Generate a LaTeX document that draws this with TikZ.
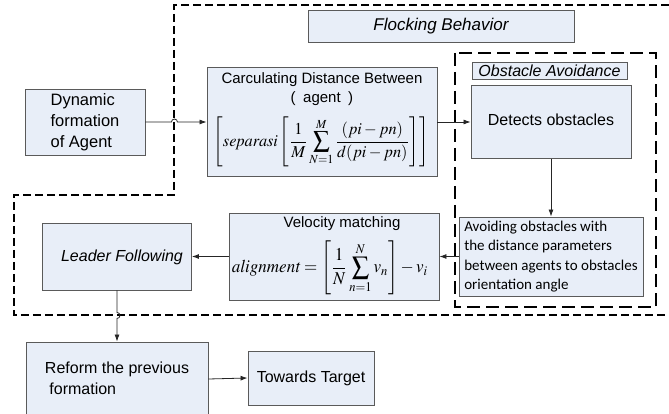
\documentclass[tikz,border=0pt]{standalone}
\usepackage{mathptmx}
\usepackage{fontspec}
\setmainfont{Liberation Sans}
\newfontfamily\calfont{Carlito}
\usetikzlibrary{arrows.meta}
\definecolor{boxfill}{HTML}{E8EEF8}
\definecolor{boxline}{HTML}{5A5A5A}
\begin{document}
\begin{tikzpicture}[x=1pt,y=-1pt,
  blk/.style={draw=boxline,fill=boxfill,line width=0.9pt,inner sep=0pt},
  txt/.style={inner sep=0pt,font=\fontsize{16}{21}\selectfont},
  conn/.style={draw=black!85,line width=0.8pt,-{Latex[length=7pt,width=5pt]}},
  outerdash/.style={line width=1.5pt,dash pattern=on 8pt off 4pt},
  obsdash/.style={line width=1.6pt,dash pattern=on 13pt off 6pt}]
\clip (0,0) rectangle (669,414);
% outer dashed region
\draw[outerdash] (669,5) -- (174,5) -- (174,195) -- (14,195) -- (14,315) -- (669,315);
% obstacle avoidance dashed region
\draw[obsdash] (455,53) rectangle (656,307);
% boxes
\node[blk,minimum width=120pt,minimum height=66pt] (dyn) at (85,122) {};
\node[txt,font=\fontsize{16.5}{21}\selectfont,align=left] (dynt) at (85,122) {Dynamic\\formation\\of Agent};
\node[blk,minimum width=266pt,minimum height=32pt] (flock) at (441,26)
  {\fontsize{17}{20}\selectfont\itshape Flocking Behavior};
\node[blk,minimum width=230pt,minimum height=109pt] (carc) at (322,122) {};
\node[txt,font=\fontsize{15}{19}\selectfont,align=center] (carct) at (322,89)
  {Carculating Distance Between\\(\enspace agent\enspace)};
\node[inner sep=0pt] (carcf) at (321,142)
  {\resizebox*{215pt}{50pt}{$\displaystyle\left[\mathit{separasi}\left[\frac{1}{M}\sum_{N=1}^{M}\frac{(pi-pn)}{d(pi-pn)}\right]\right]$}};
\node[blk,minimum width=155pt,minimum height=17pt] (obsl) at (549.5,70.5)
  {\fontsize{16}{17}\selectfont\itshape Obstacle Avoidance};
\node[blk,minimum width=160pt,minimum height=73pt] (det) at (551,122) {};
\node[txt] (dett) at (551,120) {Detects obstacles};
\node[blk,minimum width=184pt,minimum height=79pt] (avoid) at (551,256.5) {};
\node[inner sep=0pt,align=left,font=\calfont\fontsize{15}{19.5}\selectfont] (avoidt) at (551,256.5)
  {Avoiding obstacles with\\the distance parameters\\between agents to obstacles\\orientation angle};
\node[blk,minimum width=210pt,minimum height=87pt] (vel) at (334,256.5) {};
\node[txt,font=\fontsize{15}{20}\selectfont] (velt) at (342,224) {Velocity matching};
\node[inner sep=0pt] (velf) at (330,268)
  {\resizebox*{196pt}{54pt}{$\displaystyle \mathit{alignment}=\left[\frac{1}{N}\sum_{n=1}^{N}v_n\right]-v_i$}};
\node[blk,minimum width=149pt,minimum height=67pt] (lead) at (117,256.5) {};
\node[txt] (leadt) at (122,257) {\itshape Leader Following};
\node[blk,minimum width=182pt,minimum height=74pt] (reform) at (117,379) {};
\node[txt,align=left] (reformt) at (117,378) {Reform the previous\\\ formation};
\node[blk,minimum width=126pt,minimum height=54pt,font=\fontsize{16}{21}\selectfont] (tow) at (311,378) {Towards Target};
% connectors
\draw[conn] (dyn.east) -- ++(26,0) arc[start angle=180,end angle=0,radius=3pt] -- (carc.west);
\draw[conn] (carc.east) -- (det.west);
\draw[conn] (det.south) -- (avoid.north);
\draw[conn] (avoid.west) -- (vel.east);
\draw[conn] (vel.west) -- (lead.east);
\draw[conn] (lead.south) -- ++(0,22) arc[start angle=90,end angle=-90,radius=3pt] -- (reform.north);
\draw[conn] (reform.east) -- (tow.west);
\end{tikzpicture}
\end{document}
